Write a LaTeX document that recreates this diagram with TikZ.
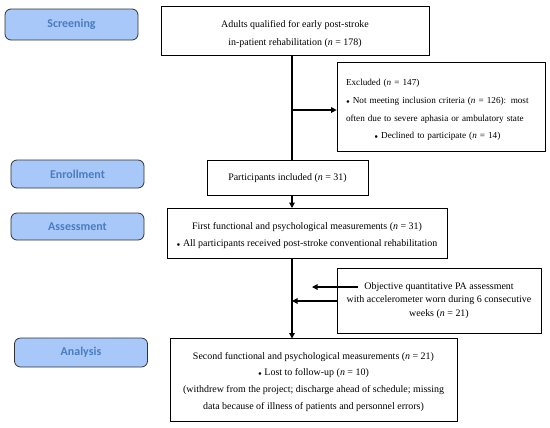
\documentclass[tikz,border=0pt]{standalone}
\usepackage{fontspec}
\setmainfont{Liberation Serif}
\newfontfamily\labfont{Carlito}
\usetikzlibrary{arrows.meta}
\definecolor{pillfill}{RGB}{168,200,250}
\definecolor{pilltext}{RGB}{74,124,190}
\tikzset{
  pill/.style={draw=black!80, line width=0.8bp, rounded corners=6bp, fill=pillfill,
    minimum width=133bp, inner sep=0pt, font=\labfont\fontsize{12}{14}\selectfont\bfseries, text=pilltext},
  info/.style={draw=black, line width=0.7bp, inner sep=0pt, align=center,
    font=\fontsize{10}{17}\selectfont},
  conn/.style={line width=1.2bp, draw=black},
  arr/.style={conn, -{Triangle[length=5.5bp,width=5.5bp]}}
}
\newcommand{\nn}{\textit{n}}
\newcommand{\bul}{{\fontsize{6}{6}\selectfont$\bullet$}\ }
\newcommand{\topst}[1]{\rule{0pt}{#1}}
\begin{document}
\begin{tikzpicture}[x=1bp,y=-1bp]
\useasboundingbox (0,0) rectangle (550,427);
% phase labels
\node[pill, minimum height=31bp] (scr) at (71.5,24.5) {Screening};
\node[pill, minimum height=28bp] (enr) at (77.5,174) {Enrollment};
\node[pill, minimum height=27bp] (ass) at (77.5,226.5) {Assessment};
\node[pill, minimum height=29bp] (ana) at (81,352.5) {Analysis};
% boxes
\node[info, minimum width=268bp, minimum height=49bp, font=\fontsize{10}{18.5}\selectfont] (b1) at (295,30.5)
  {\topst{14bp}Adults qualified for early post-stroke\\in-patient rehabilitation (\nn{} = 178)};
\node[info, minimum width=208bp, minimum height=89bp, align=left, inner xsep=9bp,
      text width=190bp, font=\fontsize{9.2}{18}\selectfont] (exc) at (441,106.5)
  {\raisebox{-2bp}[\height][\depth]{\begin{tabular}{@{}l@{}}Excluded (\nn{} = 147)\\
   \bul Not meeting inclusion criteria (\nn{} = 126): most\\
   often due to severe aphasia or ambulatory state\\
   \multicolumn{1}{@{}c@{}}{\bul Declined to participate (\nn{} = 14)}\end{tabular}}};
\node[info, minimum width=161bp, minimum height=35bp] (par) at (287.5,177.5)
  {\topst{9bp}Participants included (\nn{} = 31)};
\node[info, minimum width=280bp, minimum height=50bp] (asb) at (307,233)
  {\topst{12bp}First functional and psychological measurements (\nn{} = 31)\\
   \bul All participants received post-stroke conventional rehabilitation};
\node[info, minimum width=204bp, minimum height=65bp, font=\fontsize{10}{13.5}\selectfont] (pa) at (439,300.5)
  {Objective quantitative PA assessment\\
   with accelerometer worn during 6 consecutive\\
   weeks (\nn{} = 21)};
\node[info, minimum width=287bp, minimum height=83bp, font=\fontsize{10}{17}\selectfont] (anb) at (313.5,380)
  {\topst{11bp}Second functional and psychological measurements (\nn{} = 21)\\
   \bul Lost to follow-up (\nn{} = 10)\\
   (withdrew from the project; discharge ahead of schedule; missing\\
   data because of illness of patients and personnel errors)};
% connector coordinates
\coordinate (t1) at (292,55);
\coordinate (j1) at (292,110);
\coordinate (t2) at (292,160);
\coordinate (t3) at (292,195);
\coordinate (t4) at (292,208);
\coordinate (t5) at (292,258);
\coordinate (j2) at (292,301);
\coordinate (t6) at (292,338.5);
\coordinate (s1) at (358,287);
\coordinate (s2) at (312,287);
% connectors
\draw[conn] (t1) -- (t2);
\draw[arr] (j1) -- (j1 -| exc.west);
\draw[arr] (t3) -- (t4);
\draw[arr] (t5) -- (t6);
\draw[arr] (j2 -| pa.west) -- (j2);
\draw[arr] (s1) -- (s2);
\end{tikzpicture}
\end{document}
